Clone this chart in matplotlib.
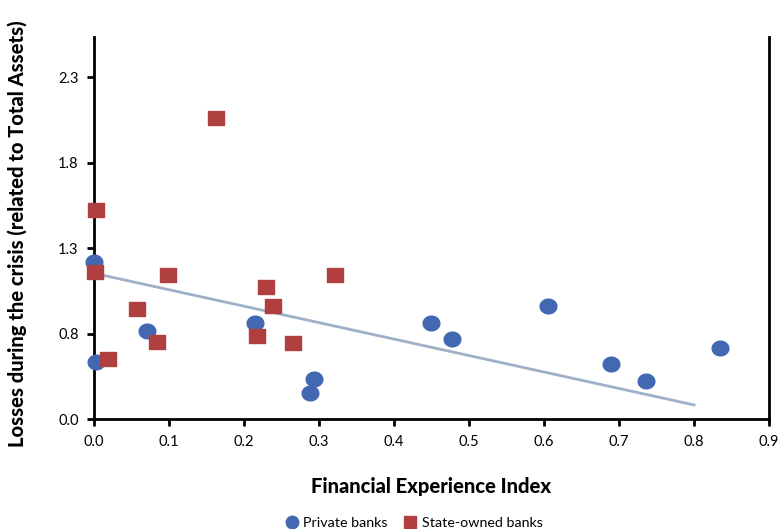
import numpy as np
import matplotlib.pyplot as plt
from matplotlib.path import Path
from matplotlib.lines import Line2D

# Private banks (circles)
private_x = [0.000, 0.002, 0.071, 0.215, 0.293, 0.288, 0.449, 0.477, 0.605, 0.689, 0.736, 0.835]
private_y = [1.219, 0.634, 0.817, 0.861, 0.534, 0.452, 0.861, 0.770, 0.961, 0.621, 0.522, 0.716]

# State-owned banks (squares)
state_x = [0.002, 0.001, 0.019, 0.057, 0.084, 0.098, 0.163, 0.217, 0.229, 0.238, 0.265, 0.321]
state_y = [1.522, 1.160, 0.651, 0.944, 0.752, 1.142, 2.061, 0.785, 1.074, 0.961, 0.746, 1.142]

# linear trend line end points
trend_x = [0.0, 0.8]
trend_y = [1.154, 0.384]

# the chart's y axis starts at 0.3 but its first label reads 0.0
y_ticks = [0.3, 0.8, 1.3, 1.8, 2.3]
y_tick_labels = ['0.0', '0.8', '1.3', '1.8', '2.3']
x_ticks = [0.0, 0.1, 0.2, 0.3, 0.4, 0.5, 0.6, 0.7, 0.8, 0.9]

blue = '#4268B2'
red = '#B04040'
trend_color = '#9FB1C6'

plt.rcParams['font.family'] = ['Lato', 'DejaVu Sans']

# slightly flattened circle marker
t = np.linspace(0, 2 * np.pi, 60)
ellipse = Path(np.column_stack([np.cos(t), 0.88 * np.sin(t)]), closed=True)
rect = Path([(-1, -0.88), (1, -0.88), (1, 0.88), (-1, 0.88), (-1, -0.88)], closed=True)

fig = plt.figure(figsize=(7.79, 5.29), dpi=100)
ax = fig.add_axes([0.1207, 0.2074, 0.8665, 0.7227])

ax.plot(trend_x, trend_y, color=trend_color, lw=2, zorder=2)
ax.plot(private_x, private_y, ls='none', marker=ellipse, ms=12, color=blue, zorder=3, clip_on=False)
ax.plot(state_x, state_y, ls='none', marker=rect, ms=12, color=red, zorder=3, clip_on=False)

ax.set_xlim(0, 0.9)
ax.set_ylim(0.3, 2.536)
ax.set_xticks(x_ticks)
ax.set_xticklabels([f'{v:.1f}' for v in x_ticks])
ax.set_yticks(y_ticks)
ax.set_yticklabels(y_tick_labels)
ax.tick_params(direction='out', length=5, width=2, labelsize=10.5, pad=6)

ax.spines['top'].set_visible(False)
for s in ['left', 'right', 'bottom']:
    ax.spines[s].set_linewidth(2)

ax.set_xlabel('Financial Experience Index', fontsize=14.5, fontweight='black')
ax.xaxis.set_label_coords(0.5, -0.15)
ax.set_ylabel('Losses during the crisis (related to Total Assets)', fontsize=14.5,
              fontweight='black')
ax.yaxis.set_label_coords(-0.1, 0.485)

handles = [
    Line2D([], [], ls='none', marker='o', ms=9, color=blue, label='Private banks'),
    Line2D([], [], ls='none', marker='s', ms=8, color=red, label='State-owned banks'),
]
fig.legend(handles=handles, loc='lower center', bbox_to_anchor=(0.53, -0.024), ncol=2,
           frameon=False, fontsize=10.3, handletextpad=0.2, columnspacing=1.0, handlelength=1.2)

plt.savefig('out.png', dpi=100)
